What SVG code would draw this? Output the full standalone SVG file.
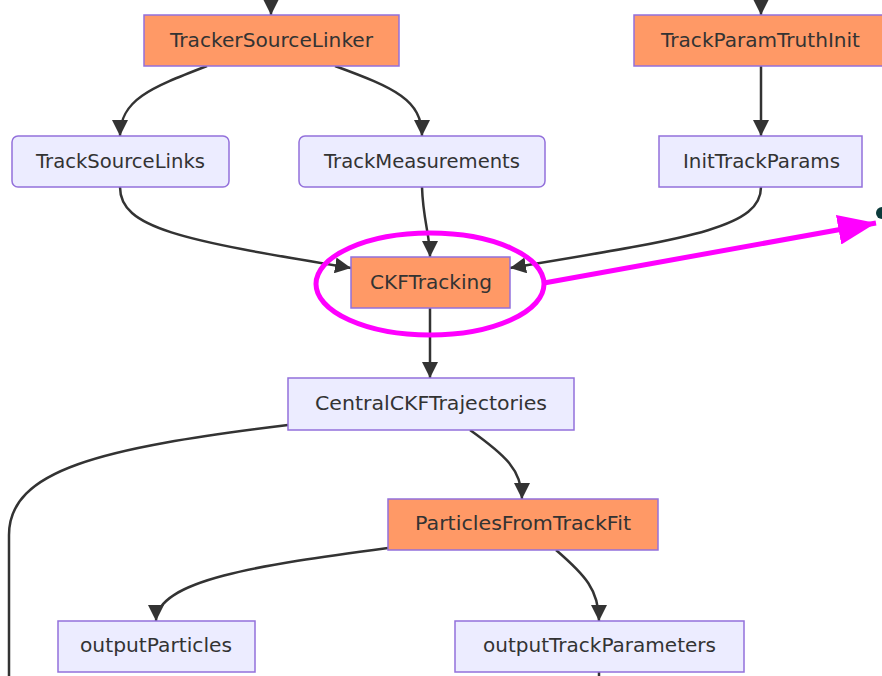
<svg xmlns="http://www.w3.org/2000/svg" width="882" height="676" viewBox="0 0 882 676">
<defs>
<style>
.proc rect{fill:#FF9966;stroke:#9370DB;stroke-width:1.5}
.data rect{fill:#ECECFF;stroke:#9370DB;stroke-width:1.5}
text{font-family:"DejaVu Sans",Verdana,sans-serif;font-size:20px;fill:#333;text-anchor:middle}
.edges path{fill:none;stroke:#333;stroke-width:2.5}
</style>
<marker id="ah" viewBox="0 0 12 12" refX="12" refY="6" markerWidth="16" markerHeight="16" markerUnits="userSpaceOnUse" orient="auto">
<path d="M0,0 L12,6 L0,12 z" fill="#333"/>
</marker>
<marker id="mh" viewBox="0 0 12 12" refX="12" refY="6" markerWidth="38" markerHeight="30" markerUnits="userSpaceOnUse" orient="auto" preserveAspectRatio="none">
<path d="M0,0 L12,6 L0,12 z" fill="#FF00FF"/>
</marker>
</defs>
<rect width="882" height="676" fill="#fff"/>
<g class="edges">
<path d="M271,0 L271,15" marker-end="url(#ah)"/>
<path d="M761,0 L761,15" marker-end="url(#ah)"/>
<path d="M207,66 C150,88 120,100 120,136" marker-end="url(#ah)"/>
<path d="M335,66 C395,88 422,100 422,136" marker-end="url(#ah)"/>
<path d="M761,66 L761,136" marker-end="url(#ah)"/>
<path d="M120,187 C120,228 180,240 351,268" marker-end="url(#ah)"/>
<path d="M422,187 C423,220 430,235 430,257" marker-end="url(#ah)"/>
<path d="M761,187 C761,228 690,238 510,268" marker-end="url(#ah)"/>
<path d="M430,308 L430,378" marker-end="url(#ah)"/>
<path d="M470,430 C505,455 522,470 522,499" marker-end="url(#ah)"/>
<path d="M288,425 C100,448 9,470 9,535 L9,676"/>
<path d="M388,548 C260,565 156,580 156,621" marker-end="url(#ah)"/>
<path d="M556,550 C585,575 599,590 599,621" marker-end="url(#ah)"/>
<path d="M599,672 L599,676"/>
</g>
<g id="TrackerSourceLinker" class="proc"><rect x="144" y="15" width="255" height="51"/><text x="271.5" y="47" textLength="203" lengthAdjust="spacingAndGlyphs">TrackerSourceLinker</text></g>
<g id="TrackParamTruthInit" class="proc"><rect x="634" y="15" width="252" height="51"/><text x="760.5" y="47" textLength="199" lengthAdjust="spacingAndGlyphs">TrackParamTruthInit</text></g>
<g id="TrackSourceLinks" class="data"><rect x="12" y="136" width="217" height="51" rx="6"/><text x="120.5" y="168" textLength="169" lengthAdjust="spacingAndGlyphs">TrackSourceLinks</text></g>
<g id="TrackMeasurements" class="data"><rect x="299" y="136" width="246" height="51" rx="6"/><text x="422" y="168" textLength="196" lengthAdjust="spacingAndGlyphs">TrackMeasurements</text></g>
<g id="InitTrackParams" class="data"><rect x="659" y="136" width="203" height="51"/><text x="761.5" y="168" textLength="157" lengthAdjust="spacingAndGlyphs">InitTrackParams</text></g>
<g id="CKFTracking" class="proc"><rect x="351" y="257" width="159" height="51"/><text x="431" y="289" textLength="122" lengthAdjust="spacingAndGlyphs">CKFTracking</text></g>
<g id="CentralCKFTrajectories" class="data"><rect x="288" y="378" width="286" height="52"/><text x="431" y="410" textLength="232" lengthAdjust="spacingAndGlyphs">CentralCKFTrajectories</text></g>
<g id="ParticlesFromTrackFit" class="proc"><rect x="388" y="499" width="270" height="51"/><text x="523" y="530" textLength="216" lengthAdjust="spacingAndGlyphs">ParticlesFromTrackFit</text></g>
<g id="outputParticles" class="data"><rect x="58" y="621" width="197" height="51"/><text x="156" y="652" textLength="152" lengthAdjust="spacingAndGlyphs">outputParticles</text></g>
<g id="outputTrackParameters" class="data"><rect x="455" y="621" width="289" height="51"/><text x="599.5" y="652" textLength="233" lengthAdjust="spacingAndGlyphs">outputTrackParameters</text></g>
<g id="highlight">
<ellipse cx="430" cy="284" rx="114" ry="51" fill="none" stroke="#FF00FF" stroke-width="5"/>
<path d="M544,283 L876,223" fill="none" stroke="#FF00FF" stroke-width="5" marker-end="url(#mh)"/>
<circle cx="882" cy="213" r="6" fill="#0B3B3B"/>
</g>
</svg>
